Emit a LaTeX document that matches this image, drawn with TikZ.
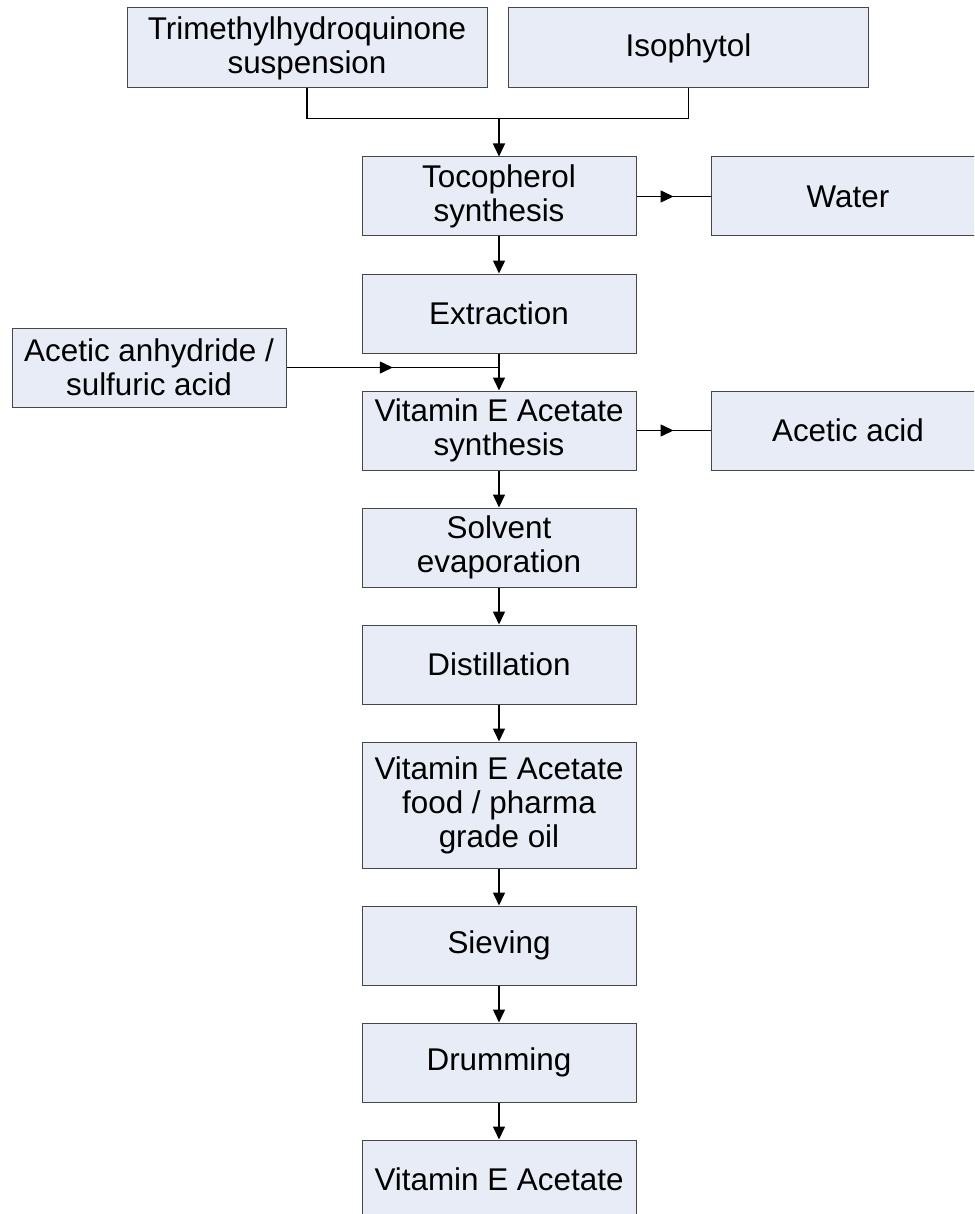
\documentclass[tikz,border=0pt]{standalone}
\usepackage{fontspec}
\setmainfont{Liberation Sans}
\usetikzlibrary{arrows.meta,decorations.markings}
\definecolor{boxfill}{RGB}{231,236,246}
\definecolor{boxline}{RGB}{70,70,70}

\begin{document}
\begin{tikzpicture}[x=0.5pt, y=-0.5pt,
	stage/.style={
		rectangle,
		draw=boxline,
		fill=boxfill,
		line width=0.5pt,
		minimum width=137pt,
		minimum height=39.5pt,
		inner sep=0pt,
		align=center,
		font=\fontsize{15.7}{17}\selectfont},
	feed/.style={stage, minimum width=180pt, minimum height=40pt},
	flow/.style={line width=0.75pt, -{Triangle[length=6.5pt,width=6pt]}},
	midflow/.style={line width=0.75pt, postaction={decorate},
		decoration={markings, mark=at position 0.5 with {\arrow{Triangle[length=6.5pt,width=6pt]}}}}]
	\clip (0,0) rectangle (974,1214);
	\fill[white] (0,0) rectangle (974,1214);
	% draw raw material nodes
	\node[feed] (thq) at (307,48) {Trimethylhydroquinone\\suspension};
	\node[feed] (iso) at (688.5,48) {Isophytol};
	% draw process steps of the main column
	\foreach \t/\y/\h [count=\step from 1] in {{Tocopherol\\synthesis}/196.5/39.5, Extraction/313.5/39.5, {Vitamin E Acetate\\synthesis}/430.5/39.5, {Solvent\\evaporation}/547.5/39.5, Distillation/664.5/39.5, {Vitamin E Acetate\\food / pharma\\grade oil}/805/63, Sieving/945.5/39.5, Drumming/1062.5/39.5, Vitamin E Acetate/1179.5/39.5}
	\node[stage, minimum height=\h pt] (p\step) at (499,\y) {\t};
	% draw side streams
	\node[stage] (water) at (848,196.5) {Water};
	\node[stage] (acid) at (848,430.5) {Acetic acid};
	\node[stage] (anh) at (149,367.5) {Acetic anhydride /\\sulfuric acid};
	% merge the two feeds
	\draw[line width=0.75pt] (thq.south) -- ++(0,30) coordinate (tl) -| (iso.south);
	\coordinate (join) at (p1.north |- tl);
	\draw[flow] (join) -- (p1.north);
	% draw side stream links
	\draw[midflow] (p1.east) -- (water.west);
	\draw[midflow] (p3.east) -- (acid.west);
	\draw[midflow] (anh.east) -- (anh.east -| p2.south);
	% draw main flow links
	\foreach \step in {1,...,8} {
		\pgfmathtruncatemacro{\next}{add(\step,1)}
		\draw[flow] (p\step.south) -- (p\next.north);
	}
\end{tikzpicture}
\end{document}
